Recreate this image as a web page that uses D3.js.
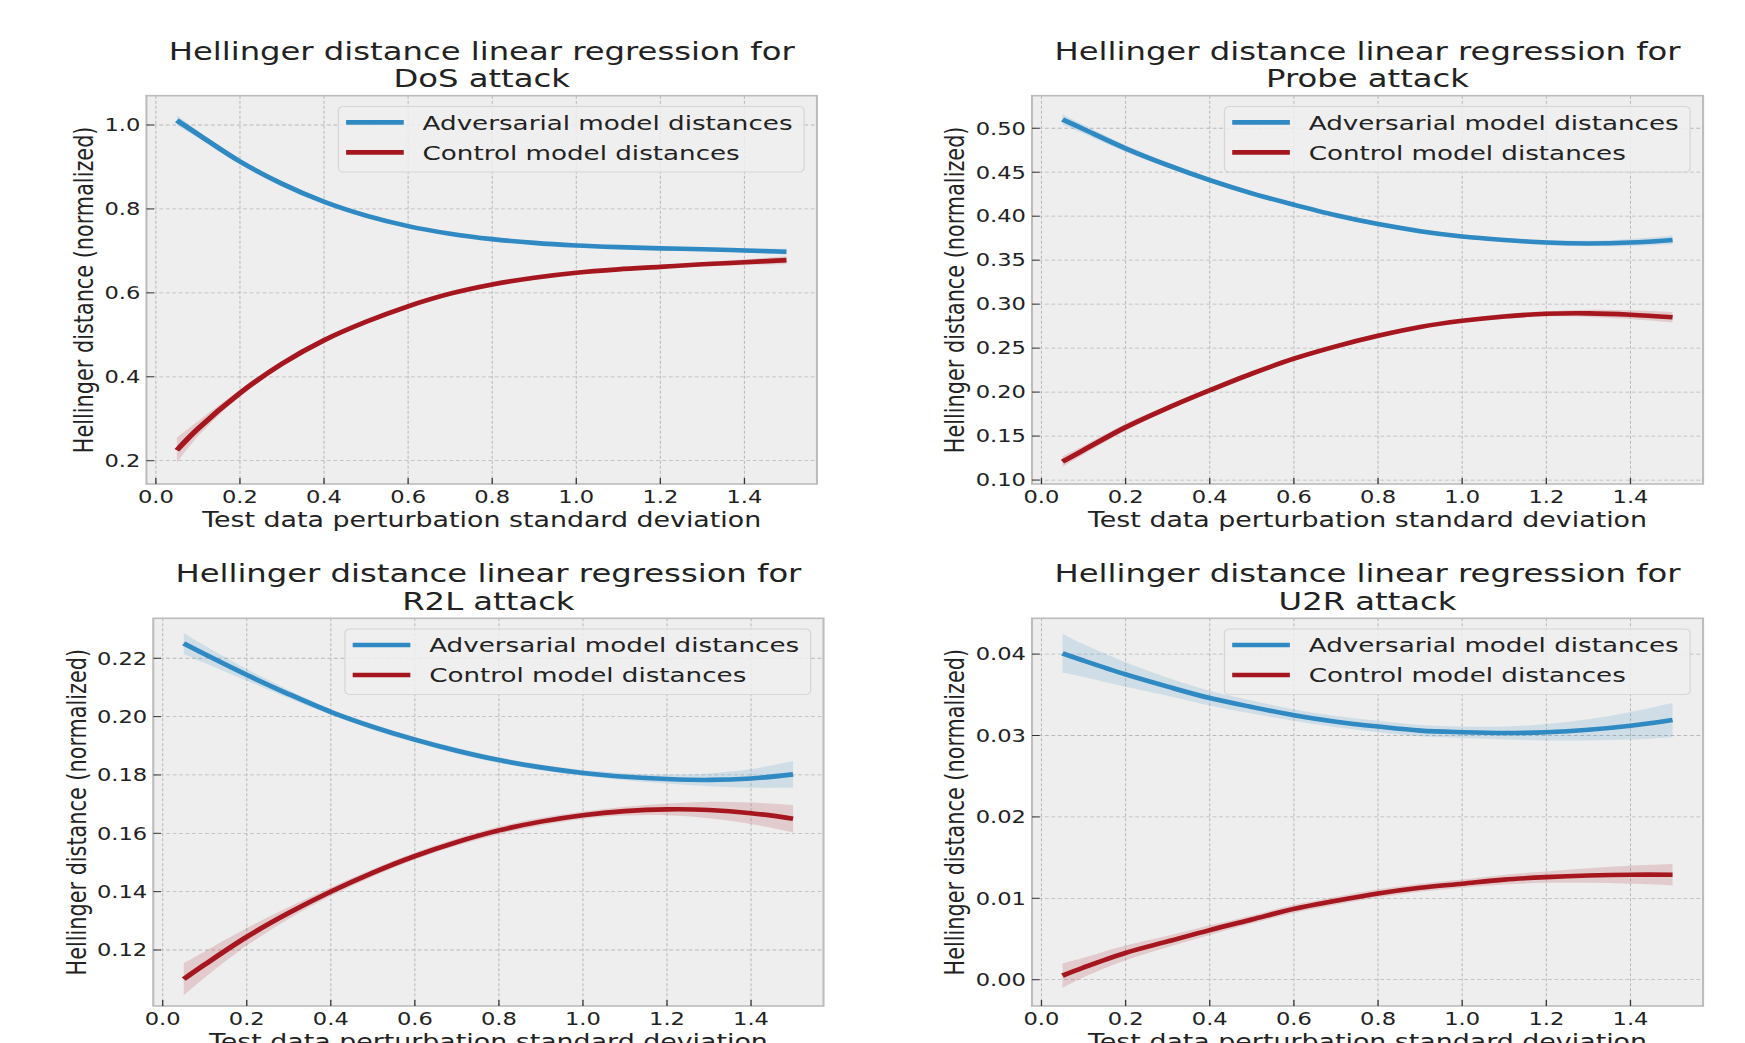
<!DOCTYPE html>
<meta charset="utf-8">
<script type="text/javascript" src="https://d3js.org/d3.v7.min.js" charset="utf-8"></script>
<style>
body { margin: 0; background: #fff; }
text { font-family: "DejaVu Sans", sans-serif; fill: #222; }
.grid line { stroke: #b8b8b8; stroke-width: 0.8px; stroke-dasharray: 3,2; }
.frame { fill: #eeeeee; stroke: #bcbcbc; stroke-width: 1.6px; }
.tick-mark { stroke: #333; stroke-width: 1px; }
</style>
<body>
<script>

// sample points along the regression lines
var xs = [0.05, 0.1, 0.2, 0.3, 0.4, 0.5, 0.6, 0.7, 0.8, 0.9, 1.0, 1.1, 1.2, 1.3, 1.4, 1.5];

var xTicks = [0.0, 0.2, 0.4, 0.6, 0.8, 1.0, 1.2, 1.4];

var attacks = ["DoS", "Probe", "R2L", "U2R"];

// adversarial model (blue)
var dosAdv   = [1.011, 0.978, 0.913, 0.860, 0.817, 0.784, 0.759, 0.741, 0.728, 0.719, 0.713, 0.709, 0.706, 0.704, 0.701, 0.698];
var probeAdv = [0.510, 0.499, 0.477, 0.458, 0.441, 0.426, 0.413, 0.401, 0.391, 0.383, 0.377, 0.373, 0.370, 0.369, 0.370, 0.373];
var r2lAdv   = [0.2251, 0.2214, 0.2143, 0.2077, 0.2016, 0.1965, 0.1921, 0.1883, 0.1851, 0.1826, 0.1807, 0.1794, 0.1786, 0.1783, 0.1788, 0.1802];
var u2rAdv   = [0.0401, 0.0392, 0.0375, 0.0360, 0.0346, 0.0335, 0.0325, 0.0317, 0.0311, 0.0306, 0.0304, 0.0303, 0.0304, 0.0307, 0.0312, 0.0319];

// control model (red)
var dosCtl   = [0.225, 0.276, 0.361, 0.431, 0.487, 0.531, 0.568, 0.598, 0.620, 0.636, 0.648, 0.656, 0.662, 0.668, 0.673, 0.678];
var probeCtl = [0.121, 0.134, 0.160, 0.182, 0.202, 0.221, 0.238, 0.252, 0.264, 0.274, 0.281, 0.286, 0.289, 0.2895, 0.288, 0.285];
var r2lCtl   = [0.110, 0.1150, 0.1245, 0.1327, 0.1400, 0.1465, 0.1522, 0.1570, 0.1610, 0.1640, 0.1662, 0.1676, 0.1682, 0.1680, 0.1669, 0.1650];
var u2rCtl   = [0.0005, 0.0015, 0.0033, 0.0047, 0.0061, 0.0074, 0.0087, 0.0097, 0.0106, 0.0113, 0.0118, 0.0123, 0.0126, 0.0128, 0.0129, 0.0129];

// confidence band half widths
var dosAdvCi   = [0.012, 0.008, 0.004, 0.003, 0.003, 0.003, 0.003, 0.003, 0.003, 0.003, 0.003, 0.003, 0.003, 0.004, 0.005, 0.007];
var dosCtlCi   = [0.030, 0.018, 0.008, 0.005, 0.004, 0.003, 0.003, 0.003, 0.003, 0.003, 0.003, 0.003, 0.004, 0.005, 0.007, 0.009];
var probeAdvCi = [0.006, 0.005, 0.004, 0.003, 0.002, 0.002, 0.002, 0.002, 0.002, 0.002, 0.002, 0.002, 0.003, 0.003, 0.004, 0.005];
var probeCtlCi = [0.006, 0.005, 0.004, 0.003, 0.002, 0.002, 0.002, 0.002, 0.002, 0.002, 0.002, 0.003, 0.003, 0.004, 0.005, 0.006];
var r2lAdvCi   = [0.0036, 0.003, 0.002, 0.0014, 0.001, 0.001, 0.001, 0.001, 0.001, 0.001, 0.001, 0.0012, 0.0015, 0.0022, 0.0032, 0.0046];
var r2lCtlCi   = [0.0055, 0.0045, 0.003, 0.002, 0.0015, 0.0013, 0.0012, 0.0012, 0.0013, 0.0013, 0.0013, 0.0015, 0.002, 0.0028, 0.0037, 0.0047];
var u2rAdvCi   = [0.0024, 0.002, 0.0015, 0.0011, 0.0009, 0.0008, 0.0007, 0.0007, 0.0007, 0.0007, 0.0007, 0.0008, 0.001, 0.0013, 0.0017, 0.0021];
var u2rCtlCi   = [0.0015, 0.0012, 0.0009, 0.0007, 0.0006, 0.0005, 0.0005, 0.0005, 0.0005, 0.0005, 0.0005, 0.0006, 0.0007, 0.0009, 0.0011, 0.0013];

var dosTicks   = [0.2, 0.4, 0.6, 0.8, 1.0];
var probeTicks = [0.10, 0.15, 0.20, 0.25, 0.30, 0.35, 0.40, 0.45, 0.50];
var r2lTicks   = [0.12, 0.14, 0.16, 0.18, 0.20, 0.22];
var u2rTicks   = [0.00, 0.01, 0.02, 0.03, 0.04];

var legendLabels = ["Adversarial model distances", "Control model distances"];
var blue = "#2f89c2", red = "#a5161f";

// the original picture is stretched sideways, so draw in a narrower box
var stretch = 1.29;
var W = 1745, H = 1043, VW = W / stretch;

var panels = [
  {name: attacks[0], adv: dosAdv, ctl: dosCtl, advCi: dosAdvCi, ctlCi: dosCtlCi, ticks: dosTicks, fmt: ".1f",
   ydom: [0.1445, 1.0698], box: {l: 113.5, r: 633.3, t: 95.7, b: 484}},
  {name: attacks[1], adv: probeAdv, ctl: probeCtl, advCi: probeAdvCi, ctlCi: probeCtlCi, ticks: probeTicks, fmt: ".2f",
   ydom: [0.0955, 0.537], box: {l: 800, r: 1320.2, t: 95.7, b: 484}},
  {name: attacks[2], adv: r2lAdv, ctl: r2lCtl, advCi: r2lAdvCi, ctlCi: r2lCtlCi, ticks: r2lTicks, fmt: ".2f",
   ydom: [0.1008, 0.2337], box: {l: 118.8, r: 638.4, t: 618.3, b: 1006}},
  {name: attacks[3], adv: u2rAdv, ctl: u2rCtl, advCi: u2rAdvCi, ctlCi: u2rCtlCi, ticks: u2rTicks, fmt: ".2f",
   ydom: [-0.00323, 0.0444], box: {l: 800, r: 1320.2, t: 618.3, b: 1006}}
];

var svg = d3.select("body").append("svg")
    .attr("width", W)
    .attr("height", H)
    .attr("viewBox", "0 0 " + VW + " " + H)
    .attr("preserveAspectRatio", "none");

panels.forEach(function(p) {
  var b = p.box;
  var x = d3.scaleLinear().domain([-0.0225, 1.5725]).range([b.l, b.r]);
  var y = d3.scaleLinear().domain(p.ydom).range([b.b, b.t]);
  var g = svg.append("g");

  g.append("rect").attr("class", "frame")
      .attr("x", b.l).attr("y", b.t)
      .attr("width", b.r - b.l).attr("height", b.b - b.t);

  // grid
  var grid = g.append("g").attr("class", "grid");
  grid.selectAll(".gx").data(xTicks).enter().append("line")
      .attr("x1", function(d) { return x(d); }).attr("x2", function(d) { return x(d); })
      .attr("y1", b.t).attr("y2", b.b);
  grid.selectAll(".gy").data(p.ticks).enter().append("line")
      .attr("x1", b.l).attr("x2", b.r)
      .attr("y1", function(d) { return y(d); }).attr("y2", function(d) { return y(d); });

  // confidence bands then lines
  var series = [
    {vals: p.adv, ci: p.advCi, color: blue},
    {vals: p.ctl, ci: p.ctlCi, color: red}
  ];
  var smooth = d3.curveCatmullRom.alpha(0.5);
  series.forEach(function(s) {
    var rows = xs.map(function(xv, i) { return {x: xv, y: s.vals[i], c: s.ci[i]}; });
    var area = d3.area()
        .x(function(d) { return x(d.x); })
        .y0(function(d) { return y(d.y - d.c); })
        .y1(function(d) { return y(d.y + d.c); })
        .curve(smooth);
    g.append("path").datum(rows)
        .attr("d", area)
        .attr("fill", s.color)
        .attr("fill-opacity", 0.16);
  });
  series.forEach(function(s) {
    var rows = xs.map(function(xv, i) { return {x: xv, y: s.vals[i]}; });
    var line = d3.line()
        .x(function(d) { return x(d.x); })
        .y(function(d) { return y(d.y); })
        .curve(smooth);
    g.append("path").datum(rows)
        .attr("d", line)
        .attr("fill", "none")
        .attr("stroke", s.color)
        .attr("stroke-width", 4.6);
  });

  // ticks (pointing inwards) and labels
  var fx = d3.format(".1f"), fy = d3.format(p.fmt);
  g.selectAll(".xt").data(xTicks).enter().append("line").attr("class", "tick-mark")
      .attr("x1", function(d) { return x(d); }).attr("x2", function(d) { return x(d); })
      .attr("y1", b.b).attr("y2", b.b - 6);
  g.selectAll(".xl").data(xTicks).enter().append("text")
      .attr("x", function(d) { return x(d); })
      .attr("y", b.b + 19.5)
      .attr("text-anchor", "middle")
      .style("font-size", "17.5px")
      .text(function(d) { return fx(d); });

  g.selectAll(".yt").data(p.ticks).enter().append("line").attr("class", "tick-mark")
      .attr("x1", b.l).attr("x2", b.l + 6)
      .attr("y1", function(d) { return y(d); }).attr("y2", function(d) { return y(d); });
  var yl = g.selectAll(".yl").data(p.ticks).enter().append("text")
      .attr("x", b.l - 4.7)
      .attr("y", function(d) { return y(d); })
      .attr("dy", "0.36em")
      .attr("text-anchor", "end")
      .style("font-size", "17.5px")
      .text(function(d) { return fy(d); });

  var widest = 0;
  yl.each(function() { widest = Math.max(widest, this.getComputedTextLength()); });

  g.append("text")
      .attr("transform", "translate(" + (b.l - 4.7 - widest - 8.7) + "," + ((b.t + b.b) / 2) + ") rotate(-90)")
      .attr("text-anchor", "middle")
      .style("font-size", "20.8px")
      .text("Hellinger distance (normalized)");

  g.append("text")
      .attr("x", (b.l + b.r) / 2)
      .attr("y", b.b + 43)
      .attr("text-anchor", "middle")
      .style("font-size", "20.8px")
      .text("Test data perturbation standard deviation");

  // title
  var title = g.append("text")
      .attr("text-anchor", "middle")
      .style("font-size", "25px");
  title.append("tspan").attr("x", (b.l + b.r) / 2).attr("y", b.t - 36)
      .text("Hellinger distance linear regression for");
  title.append("tspan").attr("x", (b.l + b.r) / 2).attr("y", b.t - 8.7)
      .text(p.name + " attack");

  // legend, upper right
  var lg = g.append("g");
  var lw = 361, lh = 65.6;
  var lx = b.r - 10 - lw, ly = b.t + 10.7;
  lg.append("rect")
      .attr("x", lx).attr("y", ly)
      .attr("width", lw).attr("height", lh)
      .attr("rx", 4).attr("ry", 4)
      .attr("fill", "#efefef").attr("fill-opacity", 0.85)
      .attr("stroke", "#d6d6d6").attr("stroke-width", 1);
  [blue, red].forEach(function(c, i) {
    lg.append("line")
        .attr("x1", lx + 6).attr("x2", lx + 50.7)
        .attr("y1", ly + 16 + i * 30).attr("y2", ly + 16 + i * 30)
        .attr("stroke", c).attr("stroke-width", 4.6);
    lg.append("text")
        .attr("x", lx + 65.3)
        .attr("y", ly + 23.3 + i * 30)
        .style("font-size", "20.3px")
        .text(legendLabels[i]);
  });
});

</script>
</body>
</html>
